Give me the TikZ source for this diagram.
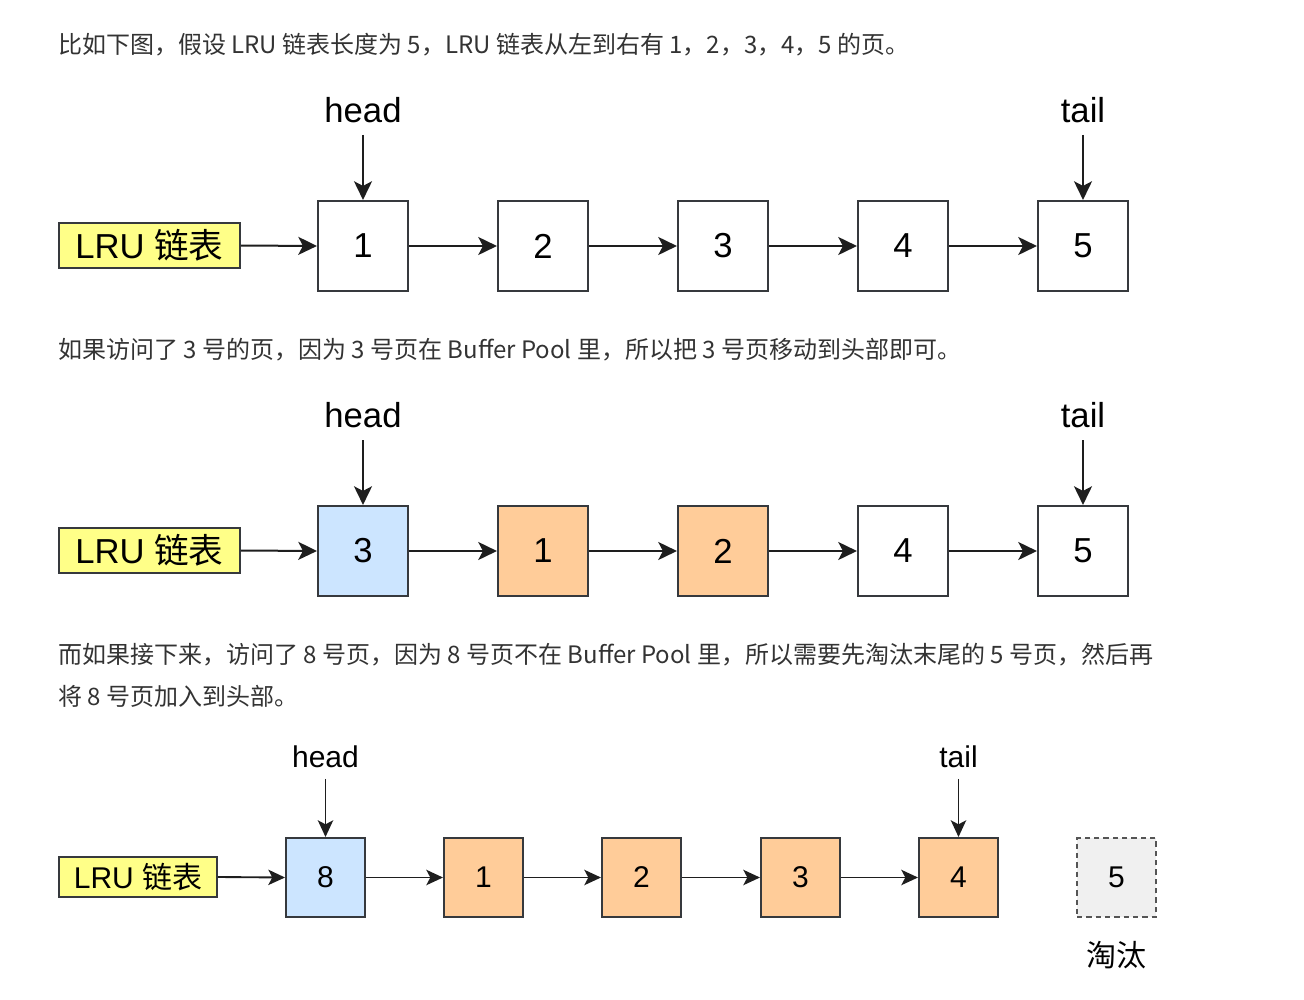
\documentclass[tikz,border=0pt]{standalone}
\usepackage{fontspec}
\setmainfont{Liberation Sans}
\newfontfamily\cjk{Noto Sans CJK SC}
\usetikzlibrary{arrows.meta}
\definecolor{linec}{HTML}{36393D}
\definecolor{bluef}{HTML}{CCE5FF}
\definecolor{orangef}{HTML}{FFCC99}
\definecolor{yellowf}{HTML}{FFFF88}
\definecolor{grayf}{HTML}{F0F0F0}
\definecolor{grayl}{HTML}{555555}
\definecolor{textc}{HTML}{333333}
\definecolor{arrc}{HTML}{1E1E1E}
\begin{document}
\begin{tikzpicture}[x=0.75pt,y=-0.75pt,
  body/.style={anchor=west,inner sep=0pt,text=textc,font=\cjk\fontsize{18pt}{20pt}\selectfont},
  cellA/.style={draw=linec,line width=1.6pt,minimum width=67.5pt,minimum height=67.5pt,inner sep=0pt,font=\fontsize{26pt}{30pt}\selectfont},
  cellB/.style={draw=linec,line width=1.5pt,minimum width=59.25pt,minimum height=59.25pt,inner sep=0pt,font=\fontsize{22.5pt}{26pt}\selectfont},
  lruA/.style={draw=linec,line width=1.4pt,fill=yellowf,minimum width=135.75pt,minimum height=33.75pt,inner sep=0pt,font=\fontsize{26pt}{30pt}\selectfont},
  lruB/.style={draw=linec,line width=1.3pt,fill=yellowf,minimum width=118.5pt,minimum height=30pt,inner sep=0pt,font=\fontsize{22.5pt}{26pt}\selectfont},
  lblA/.style={inner sep=0pt,font=\fontsize{26pt}{30pt}\selectfont},
  lblB/.style={inner sep=0pt,font=\fontsize{22.5pt}{26pt}\selectfont},
  arrA/.style={draw=arrc,line width=1.5pt,-{Stealth[length=14pt,width=13.5pt,inset=3.5pt]}},
  arrB/.style={draw=arrc,line width=1.4pt,-{Stealth[length=12.5pt,width=11.5pt,inset=3pt]}},
  wh/.style={fill=white},
  bl/.style={fill=bluef},
  orf/.style={fill=orangef},
  gone/.style={fill=grayf,draw=grayl,dash pattern=on 4pt off 3pt},
]
\useasboundingbox[fill=white] (0,0) rectangle (1304,1000);

% ---------- text 1
\node[body] (t1) at (58,45) {比如下图，假设 LRU 链表长度为 5，LRU 链表从左到右有 1，2，3，4，5 的页。};

% ---------- diagram 1
\node[lruA] (l1) at (149.5,245.5) {LRU {\cjk 链表}};
\node[cellA,wh] (a1) at (363,246) {1};
\node[cellA,wh] (a2) at (543,246) {2};
\node[cellA,wh] (a3) at (723,246) {3};
\node[cellA,wh] (a4) at (903,246) {4};
\node[cellA,wh] (a5) at (1083,246) {5};
\node[lblA] (h1) at (363,110) {head};
\node[lblA] (k1) at (1083,110) {tail};
\draw[arrA] (l1.east) -- (a1.west);
\draw[arrA] (a1.east) -- (a2.west);
\draw[arrA] (a2.east) -- (a3.west);
\draw[arrA] (a3.east) -- (a4.west);
\draw[arrA] (a4.east) -- (a5.west);
\draw[arrA,shorten <=9pt] (h1.south) -- (a1.north);
\draw[arrA,shorten <=9pt] (k1.south) -- (a5.north);

% ---------- text 2
\node[body] (t2) at (58,350) {如果访问了 3 号的页，因为 3 号页在 Buffer Pool 里，所以把 3 号页移动到头部即可。};

% ---------- diagram 2
\node[lruA] (l2) at (149.5,550.5) {LRU {\cjk 链表}};
\node[cellA,bl] (b1) at (363,551) {3};
\node[cellA,orf] (b2) at (543,551) {1};
\node[cellA,orf] (b3) at (723,551) {2};
\node[cellA,wh] (b4) at (903,551) {4};
\node[cellA,wh] (b5) at (1083,551) {5};
\node[lblA] (h2) at (363,415) {head};
\node[lblA] (k2) at (1083,415) {tail};
\draw[arrA] (l2.east) -- (b1.west);
\draw[arrA] (b1.east) -- (b2.west);
\draw[arrA] (b2.east) -- (b3.west);
\draw[arrA] (b3.east) -- (b4.west);
\draw[arrA] (b4.east) -- (b5.west);
\draw[arrA,shorten <=9pt] (h2.south) -- (b1.north);
\draw[arrA,shorten <=9pt] (k2.south) -- (b5.north);

% ---------- text 3
\node[body] (t3) at (58,655) {而如果接下来，访问了 8 号页，因为 8 号页不在 Buffer Pool 里，所以需要先淘汰末尾的 5 号页，然后再};
\node[body] (t4) at (58,696) {将 8 号页加入到头部。};

% ---------- diagram 3
\node[lruB] (l3) at (138,877) {LRU {\cjk 链表}};
\node[cellB,bl] (c1) at (325.5,877.5) {8};
\node[cellB,orf] (c2) at (483.5,877.5) {1};
\node[cellB,orf] (c3) at (641.5,877.5) {2};
\node[cellB,orf] (c4) at (800.5,877.5) {3};
\node[cellB,orf] (c5) at (958.5,877.5) {4};
\node[cellB,gone] (c6) at (1116.5,877.5) {5};
\node[lblB] (h3) at (325.5,757) {head};
\node[lblB] (k3) at (958.5,757) {tail};
\node[lblB,font=\cjk\fontsize{22.5pt}{26pt}\selectfont] (e3) at (1116.5,955) {淘汰};
\draw[arrB] (l3.east) -- (c1.west);
\draw[arrB] (c1.east) -- (c2.west);
\draw[arrB] (c2.east) -- (c3.west);
\draw[arrB] (c3.east) -- (c4.west);
\draw[arrB] (c4.east) -- (c5.west);
\draw[arrB,shorten <=8pt] (h3.south) -- (c1.north);
\draw[arrB,shorten <=8pt] (k3.south) -- (c5.north);
\end{tikzpicture}
\end{document}
